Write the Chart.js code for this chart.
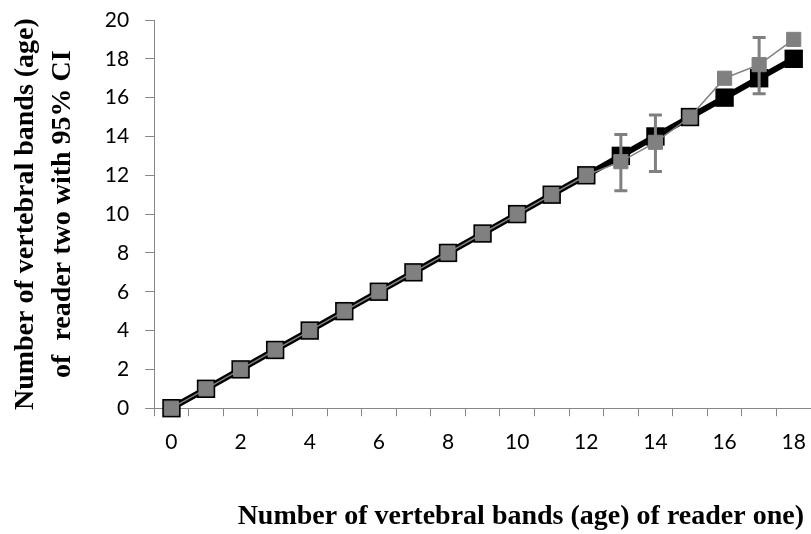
<!DOCTYPE html>
<html>
<head>
<meta charset="utf-8">
<script src="https://cdn.jsdelivr.net/npm/chart.js@4/dist/chart.umd.min.js"></script>
<style>
  html, body { margin: 0; padding: 0; background: #fff; }
  #wrap { width: 811px; height: 534px; }
</style>
</head>
<body>
<div id="wrap"><canvas id="chart" width="811" height="534"></canvas></div>
<script>
// reader one age classes (x categories)
const ages = ['0','1','2','3','4','5','6','7','8','9','10','11','12','13','14','15','16','17','18'];

// 1:1 line (reader one)
const readerOne = [0,1,2,3,4,5,6,7,8,9,10,11,12,13,14,15,16,17,18];

// mean count of reader two
const readerTwo = [0,1,2,3,4,5,6,7,8,9,10,11,12,12.7,13.7,15,17,17.7,19];

// 95% CI of reader two (null = no bar)
const ciLow  = [null,null,null,null,null,null,null,null,null,null,null,null,null,11.2,12.2,null,null,16.2,null];
const ciHigh = [null,null,null,null,null,null,null,null,null,null,null,null,null,14.1,15.1,null,null,19.1,null];

const yTicks = [0,2,4,6,8,10,12,14,16,18,20];

const gray = '#808080';
const axisGray = '#868686';

const errorBars = {
  id: 'errorBars',
  afterDatasetsDraw(chart) {
    const ctx = chart.ctx;
    const xs = chart.scales.x;
    const ys = chart.scales.y;
    ctx.save();
    ctx.strokeStyle = gray;
    ctx.lineWidth = 3;
    for (let i = 0; i < ages.length; i++) {
      if (ciLow[i] === null) continue;
      const x = xs.getPixelForValue(i);
      const y1 = ys.getPixelForValue(ciLow[i]);
      const y2 = ys.getPixelForValue(ciHigh[i]);
      ctx.beginPath();
      ctx.moveTo(x, y1); ctx.lineTo(x, y2);
      ctx.moveTo(x - 6.5, y1); ctx.lineTo(x + 6.5, y1);
      ctx.moveTo(x - 6.5, y2); ctx.lineTo(x + 6.5, y2);
      ctx.stroke();
    }
    ctx.restore();
  }
};

new Chart(document.getElementById('chart').getContext('2d'), {
  type: 'line'
, data: {
    labels: ages
  , datasets: [{
      label: 'reader two'
    , data: readerTwo
    , borderColor: gray
    , borderWidth: 1.5
    , pointStyle: 'rect'
    , pointRadius: 10
    , pointBackgroundColor: gray
    , pointBorderColor: gray
    , pointBorderWidth: 1
    , clip: false
    , order: 1
    }, {
      label: 'reader one'
    , data: readerOne
    , borderColor: '#000'
    , borderWidth: 6
    , pointStyle: 'rect'
    , pointRadius: 13
    , pointBackgroundColor: '#000'
    , pointBorderColor: '#000'
    , pointBorderWidth: 0
    , clip: false
    , order: 2
    }]
  }
, options: {
    responsive: false
  , animation: false
  , layout: { autoPadding: false, padding: { top: 0, right: 0, bottom: 0, left: 8 } }
  , plugins: {
      legend: { display: false }
    , tooltip: { enabled: false }
    }
  , scales: {
      x: {
        type: 'category'
      , offset: true
      , border: { color: axisGray, width: 1 }
      , grid: { display: true, drawOnChartArea: false, offset: true, color: axisGray, tickLength: 8 }
      , afterFit: function(scale) { scale.paddingLeft = 0; scale.paddingRight = 0; }
      , ticks: {
          autoSkip: false
        , maxRotation: 0
        , color: '#000'
        , padding: 13
        , font: { family: 'Lato', size: 21 }
        , callback: function(value, index) { return index % 2 ? '' : ages[index]; }
        }
      , title: {
          display: true
        , text: 'Number of vertebral bands (age) of reader one) '
        , align: 'end'
        , color: '#000'
        , padding: { top: 33, bottom: 0 }
        , font: { family: 'Liberation Serif', size: 28, weight: 'bold' }
        }
      }
    , y: {
        min: 0
      , max: 20
      , border: { color: axisGray, width: 1 }
      , grid: { display: true, drawOnChartArea: false, color: axisGray, tickLength: 9 }
      , afterBuildTicks: function(axis) { axis.ticks = yTicks.map(function(v) { return { value: v }; }); }
      , afterFit: function(scale) { scale.paddingTop = 20; scale.paddingBottom = 0; }
      , ticks: {
          color: '#000'
        , padding: 16
        , font: { family: 'Lato', size: 21 }
        }
      , title: {
          display: true
        , text: ['Number of vertebral bands (age)', 'of  reader two with 95% CI']
        , color: '#000'
        , padding: { top: 0, bottom: 8 }
        , font: { family: 'Liberation Serif', size: 28, weight: 'bold', lineHeight: 1.3 }
        }
      }
    }
  }
, plugins: [errorBars]
});
</script>
</body>
</html>
